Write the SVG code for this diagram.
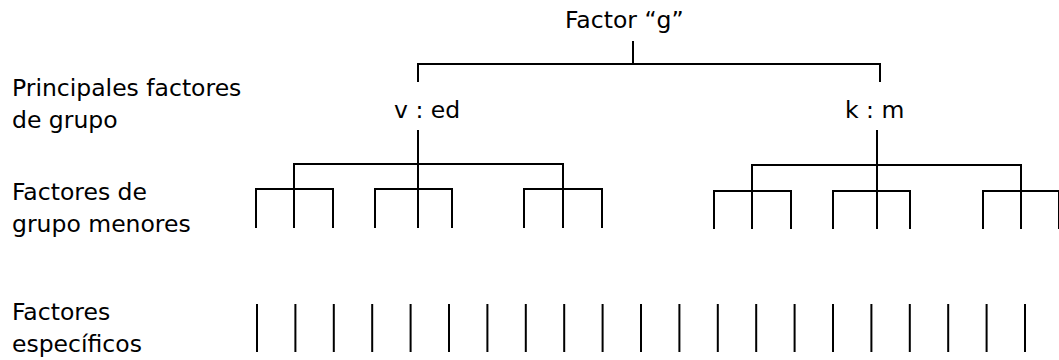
<svg xmlns="http://www.w3.org/2000/svg" width="1059" height="360" viewBox="0 0 1059 360">
<style>
text{font-family:"DejaVu Sans","Verdana",sans-serif;font-size:23.5px;fill:#000}
.c line,.c path{stroke:#000;stroke-width:2;fill:none}
</style>
<rect width="1059" height="360" fill="#fff"/>
<g id="labels">
<text x="12" y="96">Principales factores</text>
<text x="12" y="128">de grupo</text>
<text x="12" y="200">Factores de</text>
<text x="12" y="232">grupo menores</text>
<text x="12" y="320">Factores</text>
<text x="12" y="352">específicos</text>
</g>
<g id="g"><text x="565" y="28">Factor “g”</text></g>
<g id="ved"><text x="394" y="118">v : ed</text></g>
<g id="km"><text x="845" y="118">k : m</text></g>
<g class="c" id="connectors">
<line x1="633" y1="41" x2="633" y2="64"/>
<path d="M418 82V64H880V82"/>
<line x1="418" y1="130" x2="418" y2="228"/>
<path d="M294 228V164H563V228"/>
<path d="M256 228V189H333V228"/>
<path d="M375 228V189H452V228"/>
<path d="M524 228V189H602V228"/>
<line x1="877" y1="130" x2="877" y2="229"/>
<path d="M752 229V165H1021V229"/>
<path d="M714 229V191H791V229"/>
<path d="M833 229V191H910V229"/>
<path d="M983 229V191H1060M1059 191V229"/>
<path d="M257 304V352M295.4 304V352M333.8 304V352M372.2 304V352M410.6 304V352M449 304V352M487.4 304V352M525.8 304V352M564.2 304V352M602.6 304V352M641 304V352M679.4 304V352M717.8 304V352M756.2 304V352M794.6 304V352M833 304V352M871.4 304V352M909.8 304V352M948.2 304V352M986.6 304V352M1025 304V352"/>
</g>
</svg>
